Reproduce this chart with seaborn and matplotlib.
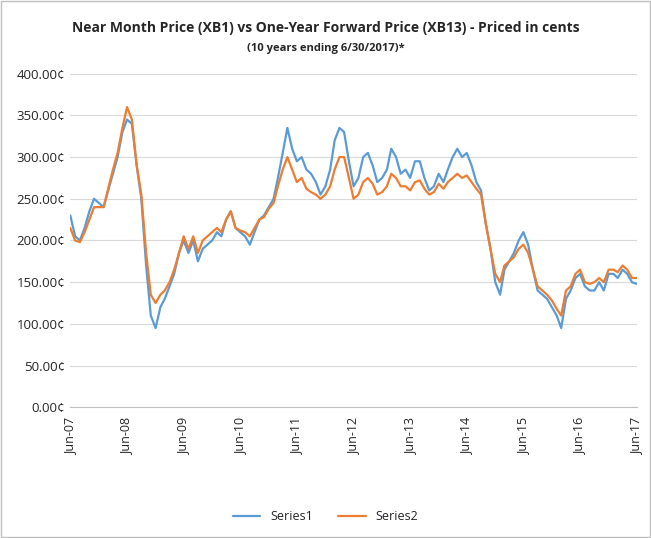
import matplotlib
matplotlib.use("Agg")
import matplotlib.pyplot as plt
import pandas as pd
import seaborn as sns
from matplotlib.ticker import FuncFormatter

# monthly readings, Jun-2007 .. Jun-2017
series1 = [
    230, 205, 200, 215, 235, 250, 245,
    240, 260, 280, 300, 330, 345, 340, 290, 250, 170, 110, 95,
    120, 130, 145, 160, 185, 200, 185, 200, 175, 190, 195, 200,
    210, 205, 225, 235, 215, 210, 205, 195, 210, 225, 230, 240,
    250, 275, 305, 335, 310, 295, 300, 285, 280, 270, 255, 265,
    285, 320, 335, 330, 295, 265, 275, 300, 305, 290, 270, 275,
    285, 310, 300, 280, 285, 275, 295, 295, 275, 260, 265, 280,
    270, 285, 300, 310, 300, 305, 290, 270, 260, 220, 190, 150,
    135, 165, 175, 185, 200, 210, 195, 165, 140, 135, 130, 120,
    110, 95, 130, 140, 155, 160, 145, 140, 140, 150, 140, 160,
    160, 155, 165, 160, 150, 148,
]
series2 = [
    215, 200, 198, 210, 225, 240, 240,
    240, 262, 285, 305, 335, 360, 345, 290, 255, 185, 135, 125,
    135, 140, 150, 165, 185, 205, 190, 205, 185, 200, 205, 210,
    215, 210, 225, 235, 215, 212, 210, 205, 215, 225, 228, 238,
    245, 265, 285, 300, 285, 270, 275, 262, 258, 255, 250, 255,
    265, 285, 300, 300, 275, 250, 255, 270, 275, 268, 255, 258,
    265, 280, 275, 265, 265, 260, 270, 272, 262, 255, 258, 268,
    262, 270, 275, 280, 275, 278, 270, 262, 255, 220, 190, 160,
    150, 170, 175, 180, 190, 195, 185, 165, 145, 140, 135, 128,
    118, 110, 140, 145, 160, 165, 150, 148, 150, 155, 150, 165,
    165, 162, 170, 165, 155, 155,
]
dates = pd.date_range("2007-06-30", periods=len(series1), freq="ME")
tick_labels = ["Jun-07", "Jun-08", "Jun-09", "Jun-10", "Jun-11", "Jun-12",
               "Jun-13", "Jun-14", "Jun-15", "Jun-16", "Jun-17"]

df = pd.DataFrame({"date": dates, "Series1": series1, "Series2": series2})
long = df.melt(id_vars="date", var_name="series", value_name="price")

sns.set_style("white")
plt.rcParams["font.family"] = ["Open Sans", "DejaVu Sans"]

fig = plt.figure(figsize=(6.51, 5.38), dpi=100)
ax = fig.add_axes([0.108, 0.243, 0.87, 0.62])
sns.lineplot(data=long, x="date", y="price", hue="series", ax=ax,
             palette=["#5B9BD5", "#ED7D31"], linewidth=1.6, legend=True)

tick_dates = pd.to_datetime([f"20{l[-2:]}-06-30" for l in tick_labels])
ax.set_xticks(tick_dates)
ax.set_xticklabels(tick_labels, rotation=90, fontsize=9)
ax.set_xlim(tick_dates[0], tick_dates[-1])
ax.set_ylim(0, 400)
ax.set_yticks(range(0, 401, 50))
ax.yaxis.set_major_formatter(FuncFormatter(lambda v, p: f"{v:.2f}¢"))
ax.tick_params(axis="y", labelsize=9.5, length=0)
ax.tick_params(axis="x", length=4, color="#bfbfbf")
ax.grid(axis="y", color="#d9d9d9", linewidth=0.8)
for s in ["top", "right", "left"]:
    ax.spines[s].set_visible(False)
ax.spines["bottom"].set_color("#bfbfbf")
ax.set_xlabel("")
ax.set_ylabel("")

handles, labels = ax.get_legend_handles_labels()
ax.get_legend().remove()
fig.legend(handles, labels, loc="center", bbox_to_anchor=(0.5, 0.04), ncol=2,
           frameon=False, fontsize=9, handlelength=2.2)

fig.text(0.5, 0.94, "Near Month Price (XB1) vs One-Year Forward Price (XB13) - Priced in cents",
         ha="center", fontsize=10, fontweight="bold")
fig.text(0.5, 0.905, "(10 years ending 6/30/2017)*", ha="center", fontsize=8, fontweight="bold")

fig.patches.append(plt.Rectangle((0.002, 0.002), 0.996, 0.996, transform=fig.transFigure,
                                 fill=False, edgecolor="#bfbfbf", linewidth=1))
fig.savefig("out.png", dpi=100)
plt.close()
